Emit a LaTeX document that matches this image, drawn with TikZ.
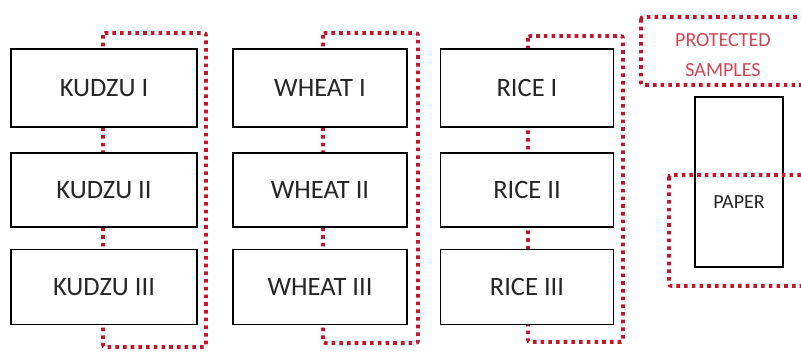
\documentclass[tikz,border=0pt]{standalone}
\usepackage{fontspec}
\setmainfont{Carlito}
\usepackage{tikz}
\usetikzlibrary{positioning}

\definecolor{guardred}{RGB}{195,22,42}

\begin{document}
\begin{tikzpicture}[x=1pt, y=-1pt,
  sample/.style={draw, line width=1.8pt, fill=white, inner sep=0pt, text=black!85, font=\fontsize{26.5}{30}\selectfont},
  guard/.style={draw=guardred, line width=3.6pt, dash pattern=on 3.6pt off 4.1pt, rounded corners=2pt},
  lab/.style={text=guardred!80, font=\fontsize{20}{30}\selectfont, align=center}
]
\useasboundingbox (0,0) rectangle (801,352);
\clip (0,0) rectangle (801,352);
% covers behind the sample columns
\draw[guard] (103,33) rectangle (206,347);
\draw[guard] (323,33) rectangle (418,343);
\draw[guard] (528,36) rectangle (623,342);
\foreach \x/\w/\crop in {104/186/KUDZU, 320/174/WHEAT, 527/173/RICE} {
  \foreach \y/\h/\num in {88/78/I, 190/74/II, 287/75/III} {
    \node[sample, minimum width=\w pt, minimum height=\h pt] (\crop\num) at (\x,\y) {\crop\ \num};
  }
}
% protected samples
\draw[guard] (641,17) rectangle (815,85);
\node[lab] (protected) at (723,55) {PROTECTED\\SAMPLES};
\node[sample, minimum width=88pt, minimum height=170pt] (paper) at (739,182) {};
\node[text=black!85, font=\fontsize{20}{22}\selectfont] (papertxt) at ([yshift=-20pt]paper.center) {PAPER};
\draw[guard] (669,175) rectangle (815,286);
\end{tikzpicture}
\end{document}
